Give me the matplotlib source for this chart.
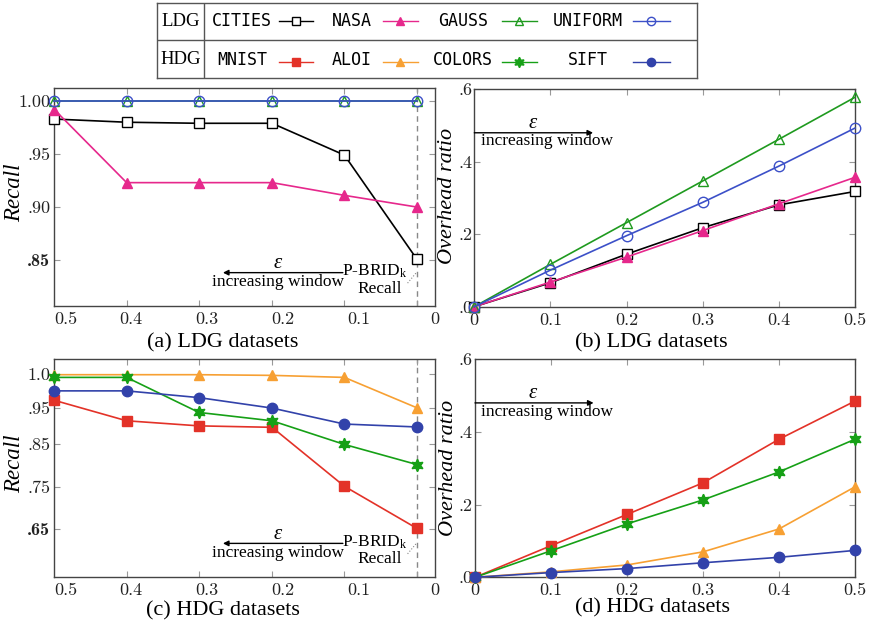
import numpy as np
import matplotlib.pyplot as plt

plt.rcParams['font.family'] = 'Liberation Serif'
plt.rcParams['mathtext.fontset'] = 'custom'
plt.rcParams['mathtext.rm'] = 'Liberation Serif'
plt.rcParams['mathtext.it'] = 'Liberation Serif:italic'

# window parameter epsilon
eps_recall = [0.5, 0.405, 0.31, 0.214, 0.119, 0.024]
eps_overhead = [0.0, 0.1, 0.2, 0.3, 0.4, 0.5]

ldg_names = ['CITIES', 'NASA', 'GAUSS', 'UNIFORM']
hdg_names = ['MNIST', 'ALOI', 'COLORS', 'SIFT']

# recall, low dimensional datasets
recall_cities = [0.983, 0.980, 0.979, 0.979, 0.949, 0.851]
recall_nasa = [0.992, 0.923, 0.923, 0.923, 0.911, 0.900]
recall_gauss = [1.0, 1.0, 1.0, 1.0, 1.0, 1.0]
recall_uniform = [1.0, 1.0, 1.0, 1.0, 1.0, 1.0]

# overhead ratio, low dimensional datasets
over_cities = [0.0, 0.066, 0.145, 0.218, 0.281, 0.318]
over_nasa = [0.0, 0.068, 0.137, 0.210, 0.284, 0.357]
over_gauss = [0.0, 0.117, 0.232, 0.347, 0.462, 0.578]
over_uniform = [0.0, 0.101, 0.196, 0.288, 0.388, 0.493]

# recall, high dimensional datasets
recall_mnist = [0.961, 0.914, 0.900, 0.896, 0.751, 0.651]
recall_aloi = [0.999, 0.999, 0.999, 0.998, 0.995, 0.950]
recall_colors = [0.995, 0.995, 0.937, 0.914, 0.849, 0.802]
recall_sift = [0.975, 0.975, 0.965, 0.949, 0.905, 0.897]

# overhead ratio, high dimensional datasets
over_mnist = [0.0, 0.087, 0.173, 0.260, 0.380, 0.485]
over_aloi = [0.0, 0.015, 0.034, 0.070, 0.133, 0.249]
over_colors = [0.0, 0.073, 0.147, 0.213, 0.290, 0.380]
over_sift = [0.0, 0.013, 0.024, 0.040, 0.055, 0.074]

styles = {
    'CITIES': dict(color='black', marker='s', mfc='white', ms=7),
    'NASA': dict(color='#e6288c', marker='^', mfc='#e6288c', ms=7),
    'GAUSS': dict(color='#1f9a1f', marker='^', mfc='none', ms=7),
    'UNIFORM': dict(color='#3c50c8', marker='o', mfc='none', ms=7.5),
    'MNIST': dict(color='#e33228', marker='s', ms=7.5),
    'ALOI': dict(color='#f7a033', marker='^', ms=7.5),
    'COLORS': dict(color='#16a016', marker=(6, 1, 0), ms=9),
    'SIFT': dict(color='#3242aa', marker='o', ms=7.5),
}

SPINE = '#444444'
TICK = '#999999'

fig = plt.figure(figsize=(8.7, 6.25), dpi=100)
W, H = 870, 625


def px_axes(left, top, right, bottom):
    return fig.add_axes([left / W, 1 - bottom / H, (right - left) / W, (bottom - top) / H])


def style_axes(ax):
    for s in ax.spines.values():
        s.set_color(SPINE)
        s.set_linewidth(1.0)
    ax.tick_params(which='both', direction='in', color=TICK, length=4, width=0.8,
                   top=True, right=True, labelsize=13, labelfontfamily='cmr10',
                   labelcolor='#222222')


def draw(ax, x, series, names):
    for ys, name in zip(series, names):
        st = styles[name]
        ax.plot(x, ys, color=st['color'], lw=1.2, marker=st['marker'], ms=st['ms'],
                mfc=st.get('mfc', st['color']), mec=st['color'], mew=1.0, clip_on=False,
                zorder=3)


def recall_axes(ax):
    ax.set_xlim(0.5, 0.0)
    ax.set_xticks(eps_recall, minor=True)
    ax.set_xticks([0.5, 0.4, 0.3, 0.2, 0.1, 0.0])
    ax.set_xticklabels(['0.5', '0.4', '0.3', '0.2', '0.1', '0'])
    ax.tick_params(axis='x', which='major', length=0, pad=4)
    ax.tick_params(axis='y', which='minor', left=False, right=False)
    ax.get_xticklabels()[0].set_horizontalalignment('left')
    ax.axvline(eps_recall[-1], color='#888888', lw=1.0, ls=(0, (4, 3)), zorder=1)
    ax.set_ylabel('Recall', fontsize=16.5, fontstyle='italic')
    ax.yaxis.set_label_coords(-0.077, 0.52)
    # window annotation
    ax.annotate('', xy=(0.443, 0.153), xytext=(0.758, 0.153), xycoords='axes fraction',
                arrowprops=dict(arrowstyle='-|>', color='black', lw=1.0,
                                mutation_scale=8, shrinkA=0, shrinkB=0))
    ax.text(0.588, 0.195, r'$\varepsilon$', transform=ax.transAxes, ha='center',
            va='center', fontsize=15)
    ax.text(0.588, 0.11, 'increasing window', transform=ax.transAxes, ha='center',
            va='center', fontsize=12.5)
    ax.text(0.842, 0.158, r'P-BRID$_{\mathrm{k}}$', transform=ax.transAxes, ha='center',
            va='center', fontsize=12.5)
    ax.text(0.855, 0.08, 'Recall', transform=ax.transAxes, ha='center',
            va='center', fontsize=12.5)
    ax.plot([0.928, 0.950], [0.105, 0.151], transform=ax.transAxes, color='#888888',
            lw=0.8, ls=':', clip_on=False)


def overhead_axes(ax):
    ax.set_xlim(0.0, 0.5)
    ax.set_ylim(0.0, 0.6)
    ax.set_xticks([0.0, 0.1, 0.2, 0.3, 0.4, 0.5])
    ax.set_xticklabels(['0', '0.1', '0.2', '0.3', '0.4', '0.5'])
    ax.set_yticks([0.0, 0.2, 0.4, 0.6])
    ax.set_yticklabels(['.0', '.2', '.4', '.6'])
    ax.tick_params(axis='x', pad=4)
    ax.tick_params(axis='y', pad=1.5)
    ax.set_ylabel('Overhead ratio', fontsize=16, fontstyle='italic')
    ax.annotate('', xy=(0.312, 0.80), xytext=(0.0, 0.80), xycoords='axes fraction',
                arrowprops=dict(arrowstyle='-|>', color='black', lw=1.0,
                                mutation_scale=8, shrinkA=0, shrinkB=0))
    ax.text(0.154, 0.842, r'$\varepsilon$', transform=ax.transAxes, ha='center',
            va='center', fontsize=15)
    ax.text(0.017, 0.76, 'increasing window', transform=ax.transAxes, ha='left',
            va='center', fontsize=12.5)


# (a) LDG recall
ax_a = px_axes(54.3, 88, 435, 306)
style_axes(ax_a)
recall_axes(ax_a)
ax_a.set_ylim(0.8066, 1.0123)
ax_a.set_yticks([0.85, 0.90, 0.95, 1.00])
ax_a.set_yticklabels(['.85', '.90', '.95', '1.00'])
ax_a.tick_params(axis='y', pad=3)
ax_a.get_yticklabels()[0].set_fontfamily('cmb10')
draw(ax_a, eps_recall, [recall_cities, recall_nasa, recall_gauss, recall_uniform], ldg_names)
ax_a.set_xlabel('(a) LDG datasets', fontsize=16)
ax_a.xaxis.set_label_coords(0.442, -0.125)

# (b) LDG overhead
ax_b = px_axes(474.3, 89.3, 855, 306.7)
style_axes(ax_b)
overhead_axes(ax_b)
ax_b.yaxis.set_label_coords(-0.046, 0.51)
draw(ax_b, eps_overhead, [over_cities, over_nasa, over_gauss, over_uniform], ldg_names)
ax_b.set_xlabel('(b) LDG datasets', fontsize=16)
ax_b.xaxis.set_label_coords(0.466, -0.122)

# (c) HDG recall, uneven recall axis
recall_knots = [0.40, 0.65, 0.75, 0.85, 0.95, 1.00, 1.10]
knot_pos = [-633.7, -528.7, -486.7, -444.0, -407.7, -374.0, -306.6]


def fwd(v):
    return np.interp(v, recall_knots, knot_pos)


def inv(p):
    return np.interp(p, knot_pos, recall_knots)


ax_c = px_axes(54.3, 359, 435, 576.7)
style_axes(ax_c)
ax_c.set_yscale('function', functions=(fwd, inv))
recall_axes(ax_c)
ax_c.set_ylim(0.5357, 1.0223)
ax_c.set_yticks([0.65, 0.75, 0.85, 0.95, 1.0])
ax_c.set_yticklabels(['.65', '.75', '.85', '.95', '1.0'])
ax_c.yaxis.set_minor_locator(plt.NullLocator())
ax_c.tick_params(axis='y', pad=3)
ax_c.get_yticklabels()[0].set_fontfamily('cmb10')
draw(ax_c, eps_recall, [recall_mnist, recall_aloi, recall_colors, recall_sift], hdg_names)
ax_c.set_xlabel('(c) HDG datasets', fontsize=16)
ax_c.xaxis.set_label_coords(0.444, -0.113)

# (d) HDG overhead
ax_d = px_axes(475, 359.3, 855, 577.3)
style_axes(ax_d)
overhead_axes(ax_d)
ax_d.yaxis.set_label_coords(-0.046, 0.50)
draw(ax_d, eps_overhead, [over_mnist, over_aloi, over_colors, over_sift], hdg_names)
ax_d.set_xlabel('(d) HDG datasets', fontsize=16)
ax_d.xaxis.set_label_coords(0.467, -0.098)

# legend table at the top
lax = px_axes(156.7, 2.7, 697, 77.7)
lax.set_xlim(156.7, 697)
lax.set_ylim(77.7, 2.7)
lax.set_xticks([])
lax.set_yticks([])
for s in lax.spines.values():
    s.set_color('#555555')
    s.set_linewidth(1.0)
lax.axvline(204.3, color='#555555', lw=1.0)
lax.axhline(40, color='#555555', lw=1.0)

name_x = [242, 352, 463, 588]
seg_x = [(279, 313), (383, 418), (502, 537), (633, 670)]
rows = [('LDG', ldg_names, 21, 21), ('HDG', hdg_names, 60, 61.5)]
for head, names, ty, my in rows:
    lax.text(180.5, ty, head, ha='center', va='center', fontsize=13.5)
    for name, nx, (x0, x1) in zip(names, name_x, seg_x):
        st = styles[name]
        lax.text(nx, ty, name, ha='center', va='center', fontsize=12,
                 family='DejaVu Sans Mono')
        lax.plot([x0, x1], [my, my], color=st['color'], lw=1.0)
        lax.plot([(x0 + x1) / 2], [my], marker=st['marker'], ms=st['ms'] - 1.5,
                 mfc=st.get('mfc', st['color']), mec=st['color'], mew=1.0,
                 color=st['color'])

fig.savefig('out.png', dpi=100)
